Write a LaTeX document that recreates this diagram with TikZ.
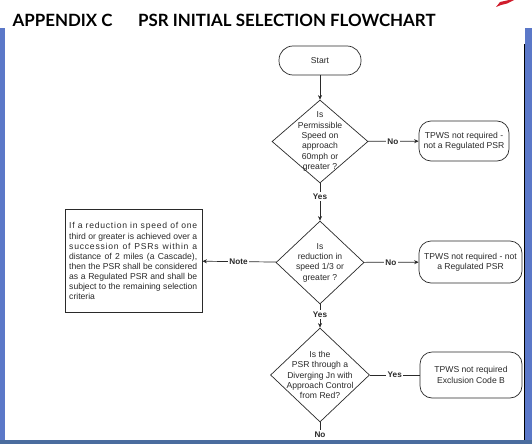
\documentclass[tikz,border=0pt]{standalone}
\usepackage{fontspec}
\setmainfont{Liberation Sans}
\newfontfamily\titlefont{Lato}[Scale=1]
\usetikzlibrary{shapes.geometric,arrows.meta}
\definecolor{framecol}{HTML}{5B78C8}
\definecolor{basecol}{HTML}{4A6C9E}
\definecolor{inkcol}{HTML}{2A2A2A}
\definecolor{logocol}{HTML}{D01C2C}
\tikzset{
  x=1pt,y=-1pt,
  every node/.style={font=\fontsize{8.6}{10.3}\selectfont,text=inkcol},
  dia/.style={diamond,draw=inkcol,line width=0.7pt,inner sep=-20pt,align=center},
  endbox/.style={rectangle,rounded corners=12pt,draw=inkcol,line width=0.7pt,align=center,inner sep=0pt},
  notebox/.style={rectangle,draw=inkcol,line width=0.8pt,inner sep=0pt},
  flow/.style={draw=inkcol,line width=0.7pt,-{Stealth[length=4.5pt,width=4pt]}},
  plain/.style={draw=inkcol,line width=0.7pt},
  lab/.style={fill=white,inner sep=1.5pt,font=\fontsize{8.2}{9}\selectfont\bfseries},
  titletext/.style={anchor=base west,inner sep=0pt,text=black,font=\titlefont\fontsize{16.9}{18}\selectfont\bfseries},
}
\newcommand{\fitline}[1]{\makebox[128pt][s]{#1}\\}
\begin{document}
\begin{tikzpicture}
\useasboundingbox (0,0) rectangle (532,444);
\fill[white] (0,0) rectangle (532,444);
% frame
\fill[framecol] (0,28) rectangle (5,444);
\fill[framecol] (525,28) rectangle (532,444);
\fill[basecol] (0,440) rectangle (532,444);
\draw[black,line width=0.9pt] (524,44) -- (524,440);
% logo
\fill[logocol] (496,7) -- (500,2) -- (509,0) -- (514,0) -- (507,3.5) -- (501,5) -- cycle;
% title
\node[titletext] (t1) at (12.5,26.5) {APPENDIX C};
\node[titletext] (t2) at (138,26.5) {PSR INITIAL SELECTION FLOWCHART};
% flow nodes
\node[endbox,rounded corners=14pt,minimum width=82pt,minimum height=29pt] (start) at (320,60.5) {Start};
\node[dia,minimum width=96pt,minimum height=83pt] (d1) at (320,141.5) {Is\\Permissible\\Speed on\\approach\\60mph or\\greater ?};
\node[endbox,minimum width=90pt,minimum height=40pt] (b1) at (464,141) {TPWS not required -\\not a Regulated PSR};
\node[dia,minimum width=88pt,minimum height=83pt] (d2) at (320,262.5) {Is\\reduction in\\speed 1/3 or\\greater ?};
\node[endbox,minimum width=103pt,minimum height=42pt] (b2) at (470.5,262) {TPWS not required - not\\a Regulated PSR};
\node[notebox,minimum width=137pt,minimum height=103pt] (note) at (133.5,260.5) {};
\node[anchor=north west,inner sep=0pt,align=left,font=\fontsize{8.6}{10.15}\selectfont] (notetext) at (69,222.5) {%
\makebox[128pt][s]{\addfontfeature{LetterSpace=9}If a reduction in speed of one}\\
\fitline{third or greater is achieved over a}%
\makebox[128pt][s]{\addfontfeature{LetterSpace=9}succession of PSRs within a}\\
\fitline{distance of 2 miles (a Cascade),}%
\fitline{then the PSR shall be considered}%
\fitline{as a Regulated PSR and shall be}%
\fitline{subject to the remaining selection}%
criteria};
\node[dia,minimum width=99pt,minimum height=94pt] (d3) at (320,375) {Is the\\PSR through a\\Diverging Jn with\\Approach Control\\from Red?};
\node[endbox,minimum width=102pt,minimum height=46pt] (b3) at (471,375) {TPWS not required\\Exclusion Code B};
\coordinate (end) at (320,430);
% connectors
\draw[flow] (start) -- (d1);
\draw[flow] (d1) -- node[lab,pos=0.36] (l1) {Yes} (d2);
\draw[flow] (d2) -- node[lab,pos=0.45] (l2) {Yes} (d3);
\draw[flow] (d1) -- node[lab,pos=0.49] (l3) {No} (b1);
\draw[flow] (d2) -- node[lab,pos=0.49] (l4) {No} (b2);
\draw[flow] (d2) -- node[lab,pos=0.51] (l5) {Note} (note);
\draw[plain] (d3) -- node[lab,pos=0.5] (l6) {Yes} (b3);
\draw[plain] (d3) -- (end);
\node[lab] (l7) at (320,435) {No};
\end{tikzpicture}
\end{document}
